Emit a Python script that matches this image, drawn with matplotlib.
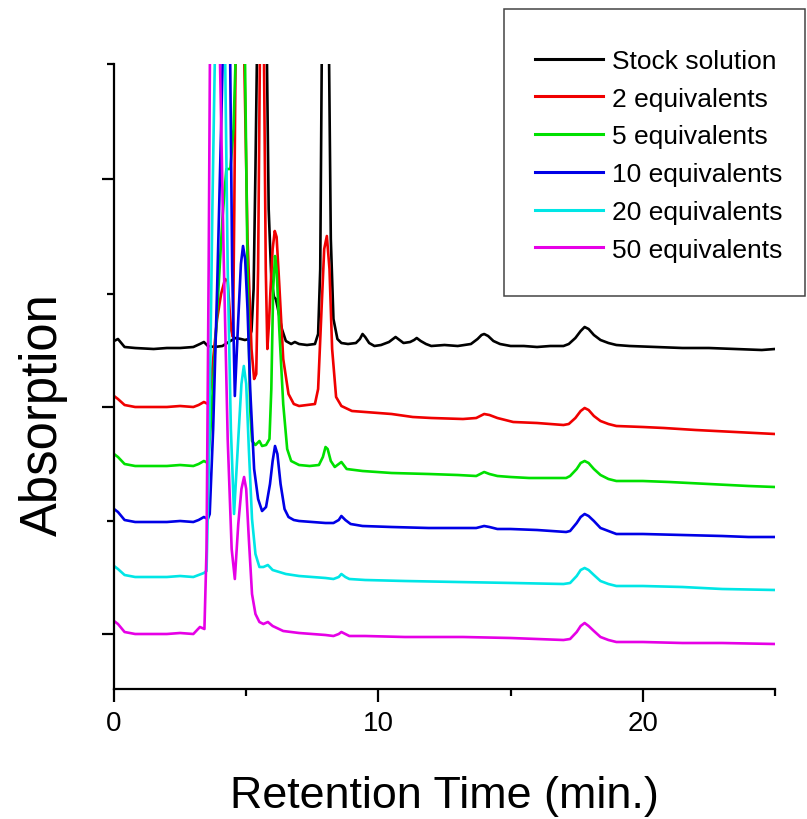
import matplotlib
matplotlib.use("Agg")
import matplotlib.pyplot as plt
from matplotlib.ticker import FixedLocator
from matplotlib.patches import Rectangle

plt.rcParams['font.family'] = ['Liberation Sans', 'DejaVu Sans']

# ---------------- data (retention time in min, absorption in a.u.) ----------------
labels = ["Stock solution", "2 equivalents", "5 equivalents",
          "10 equivalents", "20 equivalents", "50 equivalents"]
colors = ["#000000", "#f00000", "#00e000", "#0000e6", "#00e6e6", "#e600e6"]

t_stock = [0.0, 0.15, 0.4, 0.8, 1.5, 2.0, 2.5, 3.0, 3.25, 3.4, 3.55, 3.8, 4.1, 4.4, 4.6, 4.8, 4.95,
           5.1, 5.2, 5.28, 5.35, 5.41, 5.6, 5.78, 5.85, 5.95, 6.05, 6.12, 6.2, 6.35, 6.5, 6.7,
           6.84, 7.0, 7.3, 7.6, 7.72, 7.8, 7.86, 8.0, 8.13, 8.2, 8.3, 8.45, 8.6, 8.85, 9.15,
           9.3, 9.4, 9.5, 9.65, 9.85, 10.1, 10.4, 10.55, 10.65, 10.8, 10.95, 11.2, 11.35, 11.45,
           11.6, 11.8, 12.0, 12.5, 13.0, 13.5, 13.75, 13.9, 14.0, 14.15, 14.35, 14.6, 15.0, 15.5,
           16.0, 16.5, 17.0, 17.2, 17.45, 17.65, 17.8, 17.95, 18.15, 18.4, 18.7, 19.0, 19.5,
           20.5, 21.5, 22.5, 23.5, 24.5, 25.0]
a_stock = [348, 350, 342, 341, 340, 341, 341, 342, 345, 347, 343, 342, 343, 348, 351, 350, 349,
           350, 358, 400, 520, 640, 1500, 640, 480, 410, 392, 390, 380, 360, 348, 345,
           347, 345, 344, 345, 355, 420, 640, 1500, 640, 450, 370, 350, 346, 345, 346,
           350, 355, 352, 346, 343, 344, 347, 350, 352, 349, 346, 347, 349, 351,
           348, 345, 343, 344, 343, 345, 350, 354, 355, 353, 348, 345, 343, 343,
           342, 343, 343, 345, 351, 358, 362, 360, 354, 349, 346, 344, 343,
           342, 341, 341, 340, 339, 340]

t_eq2 = [0.0, 0.15, 0.4, 0.8, 1.5, 2.0, 2.5, 3.0, 3.2, 3.4, 3.55, 3.65, 3.75, 3.9, 4.05, 4.2,
         4.3, 4.42, 4.5, 4.55, 4.6, 4.75, 4.92, 5.05, 5.2, 5.3, 5.38, 5.45, 5.52, 5.6, 5.67,
         5.74, 5.8, 5.86, 5.92, 6.0, 6.08, 6.15, 6.25, 6.4, 6.6, 6.8, 7.0, 7.3, 7.6, 7.72,
         7.85, 7.95, 8.05, 8.15, 8.25, 8.4, 8.6, 9.0, 9.5, 10.0, 10.5, 11.3, 12.0, 13.2, 13.7,
         13.85, 14.0, 14.2, 14.5, 15.1, 16.0, 17.0, 17.2, 17.45, 17.65, 17.8, 17.95, 18.15,
         18.4, 18.7, 19.0, 20.0, 20.8, 22.0, 23.5, 25.0]
a_eq2 = [293, 290, 284, 282, 282, 282, 283, 282, 284, 287, 285, 300, 330, 370, 395, 410,
         408, 360, 352, 480, 640, 1200, 640, 450, 340, 310, 315, 420, 640, 1500, 640,
         420, 340, 365, 400, 440, 458, 452, 405, 330, 295, 285, 283, 284, 285, 300,
         380, 440, 453, 420, 340, 292, 283, 278, 277, 276, 275, 272, 271, 270, 271,
         273, 275, 274, 271, 267, 266, 264, 265, 271, 278, 281, 279, 273,
         268, 265, 263, 262, 261, 259, 257, 255]

t_eq5 = [0.0, 0.15, 0.4, 0.8, 1.5, 2.0, 2.5, 3.0, 3.2, 3.4, 3.55, 3.65, 3.8, 3.95, 4.1, 4.25,
         4.4, 4.52, 4.61, 4.78, 4.95, 5.05, 5.15, 5.22, 5.35, 5.5, 5.6, 5.75, 5.88, 5.95, 6.02,
         6.09, 6.15, 6.25, 6.4, 6.55, 6.7, 7.0, 7.4, 7.75, 7.9, 8.0, 8.08, 8.2, 8.35, 8.6, 8.8,
         9.4, 10.5, 11.9, 13.0, 13.7, 13.85, 14.0, 14.2, 14.5, 15.0, 15.7, 17.1, 17.25, 17.5,
         17.65, 17.8, 17.95, 18.15, 18.4, 18.7, 19.0, 20.0, 21.0, 22.5, 24.0, 25.0]
a_eq5 = [235, 232, 225, 223, 223, 223, 224, 223, 225, 228, 226, 260, 330, 400, 470, 520,
         520, 560, 640, 1300, 640, 420, 280, 248, 244, 248, 243, 244, 250, 300, 400,
         433, 420, 360, 285, 240, 228, 224, 223, 224, 232, 242, 240, 228, 222, 227, 220,
         218, 216, 215, 214, 213, 215, 217, 215, 213, 212, 211, 211, 213, 220,
         226, 228, 226, 220, 214, 210, 208, 208, 207, 205, 203, 202]

t_eq10 = [0.0, 0.15, 0.4, 0.8, 1.5, 2.0, 2.5, 3.0, 3.2, 3.4, 3.55, 3.62, 3.75, 3.9, 4.05, 4.12,
          4.25, 4.39, 4.47, 4.57, 4.7, 4.8, 4.88, 4.96, 5.05, 5.15, 5.3, 5.45, 5.6, 5.75, 5.9,
          6.0, 6.09, 6.18, 6.3, 6.45, 6.6, 6.8, 7.0, 7.5, 8.0, 8.3, 8.5, 8.6, 8.75, 8.95, 9.4,
          10.5, 11.9, 13.0, 13.7, 13.85, 14.0, 14.2, 14.5, 15.0, 16.0, 17.1, 17.25, 17.5, 17.65,
          17.8, 17.95, 18.15, 18.4, 18.7, 19.0, 20.0, 21.5, 23.0, 24.0, 25.0]
a_eq10 = [180, 177, 169, 167, 167, 167, 168, 167, 169, 172, 170, 175, 260, 400, 560, 640,
          1200, 640, 420, 293, 370, 425, 443, 430, 380, 300, 220, 190, 178, 182, 205,
          228, 243, 235, 205, 180, 172, 169, 168, 167, 166, 166, 169, 173, 169, 165, 163,
          162, 161, 161, 161, 162, 163, 162, 160, 160, 159, 157, 158, 166, 172,
          175, 173, 168, 161, 158, 155, 155, 154, 153, 152, 152]

t_eq20 = [0.0, 0.15, 0.4, 0.8, 1.5, 2.0, 2.5, 3.0, 3.2, 3.4, 3.5, 3.6, 3.72, 3.82, 4.0, 4.2,
          4.3, 4.42, 4.54, 4.7, 4.82, 4.91, 5.0, 5.1, 5.22, 5.35, 5.5, 5.65, 5.82, 6.0, 6.5,
          7.0, 7.5, 8.0, 8.3, 8.5, 8.6, 8.75, 8.9, 9.5, 11.0, 13.0, 15.1, 17.0, 17.25, 17.5,
          17.65, 17.8, 17.95, 18.15, 18.4, 18.7, 19.0, 20.0, 21.5, 23.0, 25.0]
a_eq20 = [123, 120, 114, 112, 112, 112, 113, 112, 114, 116, 118, 240, 480, 640, 1400, 640,
          420, 260, 175, 250, 305, 323, 305, 240, 170, 135, 122, 122, 124, 119, 115,
          113, 112, 111, 110, 112, 115, 112, 110, 109, 108, 107, 106, 105, 106, 113,
          119, 121, 119, 114, 108, 105, 103, 103, 102, 100, 99]

t_eq50 = [0.0, 0.15, 0.4, 0.8, 1.5, 2.0, 2.5, 3.0, 3.25, 3.42, 3.5, 3.58, 3.63, 3.85, 4.0, 4.15,
          4.3, 4.45, 4.57, 4.7, 4.82, 4.92, 5.0, 5.1, 5.22, 5.35, 5.5, 5.65, 5.82, 6.0, 6.4,
          7.0, 7.5, 8.0, 8.3, 8.5, 8.6, 8.75, 8.9, 9.5, 11.0, 13.2, 15.0, 17.0, 17.25, 17.5,
          17.65, 17.8, 17.95, 18.15, 18.4, 18.7, 19.0, 20.0, 21.5, 23.0, 25.0]
a_eq50 = [68, 65, 57, 55, 55, 55, 56, 55, 62, 60, 140, 420, 640, 1500, 640, 430,
          250, 140, 110, 165, 200, 212, 200, 150, 95, 75, 67, 65, 67, 63, 58,
          56, 55, 54, 53, 55, 57, 55, 53, 53, 52, 52, 51, 49, 50, 57,
          63, 66, 63, 58, 52, 49, 47, 47, 46, 46, 45]

times = [t_stock, t_eq2, t_eq5, t_eq10, t_eq20, t_eq50]
signals = [a_stock, a_eq2, a_eq5, a_eq10, a_eq20, a_eq50]

x_major = [0, 10, 20]
x_minor = [5, 15, 25]
y_major = [55, 282, 510]
y_minor = [168, 395, 625]

# ---------------- figure ----------------
W, H = 807, 820
fig = plt.figure(figsize=(W / 100, H / 100), dpi=100)
ax = fig.add_axes([114 / W, 1 - 690 / H, (775 - 114) / W, (690 - 65) / H])

for t, a, c, lab in zip(times, signals, colors, labels):
    ax.plot(t, a, color=c, lw=1.9, label=lab, solid_joinstyle='round')

ax.set_xlim(0, 25)
ax.set_ylim(0, 625)

for s in ['top', 'right']:
    ax.spines[s].set_visible(False)
for s in ['left', 'bottom']:
    ax.spines[s].set_linewidth(1.6)

ax.xaxis.set_major_locator(FixedLocator(x_major))
ax.xaxis.set_minor_locator(FixedLocator(x_minor))
ax.yaxis.set_major_locator(FixedLocator(y_major))
ax.yaxis.set_minor_locator(FixedLocator(y_minor))
ax.set_yticklabels([])
ax.tick_params(which='major', direction='out', length=9, width=1.6, labelsize=20, pad=6)
ax.tick_params(which='minor', direction='out', length=5, width=1.6)

ax.set_xlabel("Retention Time (min.)", fontsize=32.3, labelpad=28)
ax.set_ylabel("Absorption", fontsize=36.5)
ax.yaxis.set_label_coords(-0.07, 0.44)

# legend (frame drawn separately so its padding can match the original box)
leg = ax.legend(loc='upper left', bbox_to_anchor=(535 / W, 1 - 50 / H),
                bbox_transform=fig.transFigure, fontsize=19, frameon=False,
                handlelength=2.58, handletextpad=0.34, labelspacing=0.52,
                borderpad=0, borderaxespad=0)
for ln in leg.get_lines():
    ln.set_linewidth(2.2)
fig.patches.append(Rectangle((504 / W, 1 - 297 / H), 301 / W, 287 / H,
                             transform=fig.transFigure, fill=False,
                             edgecolor='#444444', lw=1.1, zorder=5))

fig.savefig("out.png", dpi=100)
